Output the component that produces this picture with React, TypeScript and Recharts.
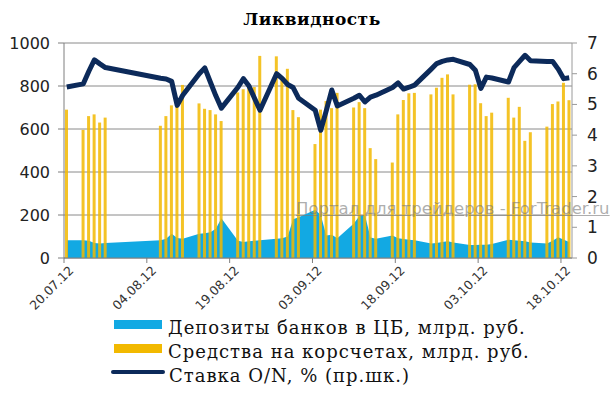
import {
  ComposedChart,
  Area,
  Bar,
  Line,
  XAxis,
  YAxis,
  CartesianGrid,
  Legend,
} from "recharts";

// trading days (dd.mm.yy)
const dates = [
  "20.07.12", "23.07.12", "24.07.12", "25.07.12", "26.07.12", "27.07.12",
  "06.08.12", "07.08.12", "08.08.12", "09.08.12", "10.08.12",
  "13.08.12", "14.08.12", "15.08.12", "16.08.12", "17.08.12",
  "20.08.12", "21.08.12", "22.08.12", "23.08.12", "24.08.12",
  "27.08.12", "28.08.12", "29.08.12", "30.08.12", "31.08.12",
  "03.09.12", "04.09.12", "05.09.12", "06.09.12", "07.09.12",
  "10.09.12", "11.09.12", "12.09.12", "13.09.12", "14.09.12",
  "17.09.12", "18.09.12", "19.09.12", "20.09.12", "21.09.12",
  "24.09.12", "25.09.12", "26.09.12", "27.09.12", "28.09.12",
  "01.10.12", "02.10.12", "03.10.12", "04.10.12", "05.10.12",
  "08.10.12", "09.10.12", "10.10.12", "11.10.12", "12.10.12",
  "15.10.12", "16.10.12", "17.10.12", "18.10.12", "19.10.12",
];

// Депозиты банков в ЦБ, млрд. руб.
const deposits = [
  82, 82, 80, 70, 67, 70,
  82, 90, 113, 93, 90,
  113, 115, 120, 136, 185,
  80, 75, 78, 80, 82,
  90, 92, 100, 180, 190,
  225, 200, 105, 108, 92,
  160, 195, 200, 95, 90,
  105, 92, 88, 85, 82,
  68, 70, 75, 78, 72,
  60, 60, 62, 62, 65,
  85, 83, 80, 78, 72,
  67, 80, 97, 85, 75,
];

// Средства на корсчетах, млрд. руб.
const corrAccounts = [
  690, 596, 660, 668, 630, 653,
  615, 660, 710, 714, 805,
  719, 694, 688, 668, 637,
  770, 785, 800, 795, 940,
  938, 830, 880, 688, 655,
  530, 690, 730, 697, 768,
  700, 725, 697, 511, 460,
  444, 668, 735, 766, 768,
  761, 792, 838, 854, 761,
  806, 808, 720, 660, 676,
  745, 653, 703, 545, 585,
  611, 716, 728, 815, 734,
];

// Ставка O/N, %
const rateON = [
  5.57, 5.67, 6.08, 6.45, 6.32, 6.2,
  5.85, 5.83, 5.75, 4.97, 5.3,
  6.0, 6.19, 5.73, 5.28, 4.88,
  5.56, 5.84, 5.6, 5.2, 4.81,
  6.0, 5.85, 5.65, 5.55, 5.2,
  4.81, 4.16, 4.8, 5.47, 4.95,
  5.2, 5.3, 5.08, 5.24, 5.3,
  5.55, 5.7, 5.5, 5.56, 5.63,
  6.15, 6.33, 6.4, 6.45, 6.47,
  6.3, 6.11, 5.52, 5.89, 5.86,
  5.73, 6.2, 6.4, 6.6, 6.42,
  6.4, 6.4, 6.15, 5.84, 5.87,
];

const tickLabels = ["20.07.12", "04.08.12", "19.08.12", "03.09.12", "18.09.12", "03.10.12", "18.10.12"];
const leftTicks = [0, 200, 400, 600, 800, 1000];
const rightTicks = [0, 1, 2, 3, 4, 5, 6, 7];

const legendItems = [
  { name: "Депозиты банков в ЦБ, млрд. руб.", color: "#12a9e3", kind: "rect" },
  { name: "Средства на корсчетах, млрд. руб.", color: "#f2b900", kind: "rect" },
  { name: "Ставка O/N, % (пр.шк.)", color: "#0c2a5a", kind: "line" },
];

const dayIndex = (s: string) => {
  const [d, m, y] = s.split(".").map(Number);
  return (Date.UTC(2000 + y, m - 1, d) - Date.UTC(2012, 6, 20)) / 86400000;
};

const data = dates.map((date, i) => ({
  date,
  x: dayIndex(date) + 0.5,
  deposits: deposits[i],
  corr: corrAccounts[i],
  rate: rateON[i],
}));

const tickText = (v: number) => tickLabels.find((t) => dayIndex(t) === v) || "";

const LegendBox = () => (
  <div style={{ height: 78, paddingLeft: 110, fontFamily: "DejaVu Serif", fontSize: 18, letterSpacing: 1, color: "#111" }}>
    {legendItems.map((item) => (
      <div key={item.name} style={{ display: "flex", alignItems: "center", height: 24 }}>
        {item.kind === "rect" ? (
          <span style={{ display: "inline-block", width: 48, height: 9, background: item.color, margin: "0 6px 0 4px" }} />
        ) : (
          <span style={{ display: "inline-block", width: 54, height: 4, borderRadius: 2, background: item.color, margin: "0 4px 0 1px" }} />
        )}
        <span style={{ whiteSpace: "nowrap", marginTop: 6 }}>{item.name}</span>
      </div>
    ))}
  </div>
);

export default function App() {
  return (
    <div style={{ position: "absolute", left: 0, top: 0, width: 612, height: 396, overflow: "hidden", background: "#fff" }}>
      <div
        style={{
          position: "absolute",
          left: 0,
          width: 624,
          top: 9,
          textAlign: "center",
          fontFamily: "DejaVu Serif",
          fontWeight: "bold",
          fontSize: 17,
          letterSpacing: 0.5,
          color: "#000",
        }}
      >
        Ликвидность
      </div>
      <ComposedChart width={612} height={396} data={data} margin={{ top: 43, right: 0, bottom: 0, left: 0 }}>
        <CartesianGrid yAxisId="left" vertical={false} stroke="#8a8a8a" />
        <XAxis
          dataKey="x"
          type="number"
          domain={[0, 92]}
          ticks={tickLabels.map(dayIndex)}
          tickFormatter={tickText}
          tick={{ angle: -45, textAnchor: "end", fontSize: 12.5, fontFamily: "DejaVu Sans", fill: "#333", dx: 4 }}
          height={60}
          tickSize={5}
          tickMargin={2}
          stroke="#7f7f7f"
          interval={0}
        />
        <YAxis
          yAxisId="left"
          domain={[0, 1000]}
          ticks={leftTicks}
          width={64}
          tickSize={6}
          tickMargin={8}
          stroke="#7f7f7f"
          tick={{ fontSize: 16, fontFamily: "DejaVu Sans", fill: "#222" }}
        />
        <YAxis
          yAxisId="right"
          orientation="right"
          domain={[0, 7]}
          ticks={rightTicks}
          width={40}
          tickSize={5}
          tickMargin={10}
          stroke="#9a9a9a"
          tick={{ fontSize: 17, fontFamily: "DejaVu Sans", fill: "#222" }}
        />
        <Area
          yAxisId="left"
          dataKey="deposits"
          type="linear"
          fill="#12a9e3"
          fillOpacity={1}
          stroke="none"
          isAnimationActive={false}
        />
        <Bar yAxisId="left" dataKey="corr" barSize={3} fill="#f2b900" fillOpacity={0.85} isAnimationActive={false} />
        <Line
          yAxisId="right"
          dataKey="rate"
          type="linear"
          stroke="#0c2a5a"
          strokeWidth={5}
          strokeLinejoin="round"
          dot={false}
          isAnimationActive={false}
        />
        <Legend
          content={<LegendBox />}
          verticalAlign="bottom"
          wrapperStyle={{ left: 0, top: 312, bottom: "auto", width: 612 }}
        />
      </ComposedChart>
      <div
        style={{
          position: "absolute",
          left: 296,
          top: 199,
          fontFamily: "DejaVu Sans",
          fontSize: 16.5,
          color: "rgba(120,120,120,0.6)",
          textDecoration: "underline",
          whiteSpace: "nowrap",
          pointerEvents: "none",
        }}
      >
        Портал для трейдеров - ForTrader.ru
      </div>
    </div>
  );
}
